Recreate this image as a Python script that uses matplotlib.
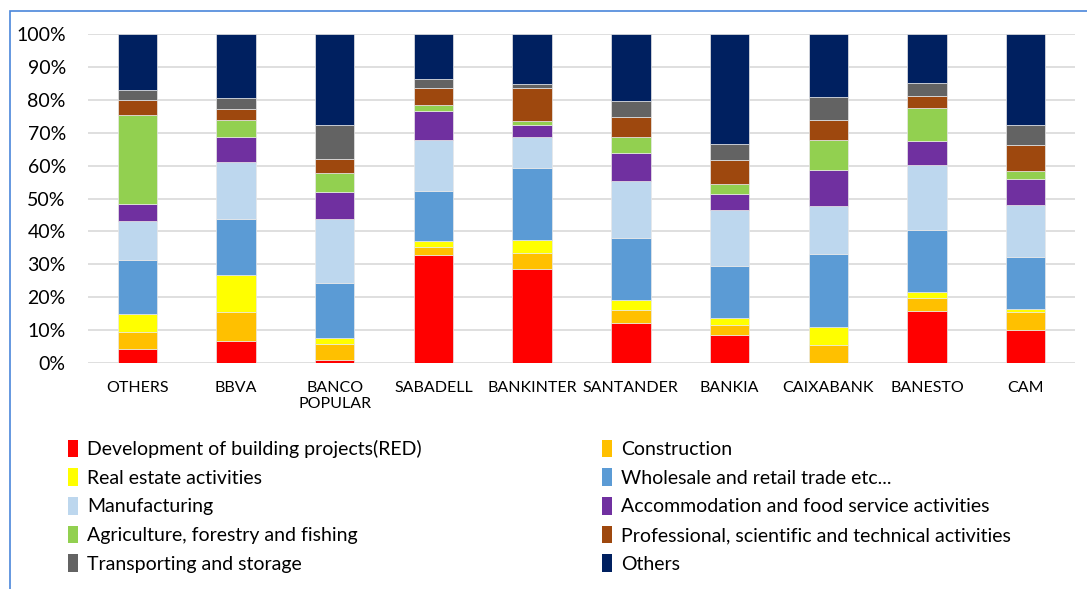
import matplotlib
matplotlib.use("Agg")
import matplotlib.pyplot as plt
import numpy as np
from matplotlib.patches import Rectangle, Patch

plt.rcParams['font.family'] = ['Lato', 'DejaVu Sans']

banks = ["OTHERS", "BBVA", "BANCO\nPOPULAR", "SABADELL", "BANKINTER",
         "SANTANDER", "BANKIA", "CAIXABANK", "BANESTO", "CAM"]

sectors = ["Development of building projects(RED)", "Construction",
           "Real estate activities", "Wholesale and retail trade etc...",
           "Manufacturing", "Accommodation and food service activities",
           "Agriculture, forestry and fishing",
           "Professional, scientific and technical activities",
           "Transporting and storage", "Others"]

colors = ["#FF0000", "#FFC000", "#FFFF00", "#5B9BD5", "#BDD7EE",
          "#7030A0", "#92D050", "#9E480E", "#636363", "#002060"]

# share of each sector per bank (%), one list per sector, banks in order above
red_dev = [4.3, 6.8, 0.9, 32.8, 28.6, 12.1, 8.4, 0.0, 15.8, 10.1]
construction = [5.1, 8.6, 4.8, 2.6, 4.9, 3.9, 3.1, 5.4, 4.1, 5.3]
real_estate = [5.4, 11.3, 2.0, 1.8, 3.8, 3.2, 2.3, 5.6, 1.6, 1.1]
wholesale = [16.4, 17.1, 16.5, 15.2, 22.1, 18.7, 15.7, 22.2, 18.8, 15.7]
manufacturing = [12.1, 17.4, 19.7, 15.4, 9.4, 17.4, 16.9, 14.6, 20.0, 15.8]
accommodation = [4.9, 7.5, 8.0, 8.9, 3.4, 8.4, 5.1, 11.0, 7.3, 8.0]
agriculture = [27.2, 5.3, 5.7, 1.7, 1.4, 5.1, 3.0, 9.1, 9.8, 2.5]
professional = [4.4, 3.1, 4.3, 5.2, 10.0, 5.9, 7.3, 5.9, 3.9, 7.7]
transport = [3.2, 3.5, 10.5, 2.8, 1.3, 4.9, 4.9, 7.1, 3.9, 6.1]
others = [17.0, 19.4, 27.6, 13.6, 15.1, 20.4, 33.3, 19.1, 14.8, 27.7]

series = [red_dev, construction, real_estate, wholesale, manufacturing,
          accommodation, agriculture, professional, transport, others]

fig = plt.figure(figsize=(10.87, 5.89), dpi=100)
ax = fig.add_axes([88 / 1087, 1 - 363 / 589, 987 / 1087, 329 / 589])

x = np.arange(len(banks))
data = np.array(series, dtype=float)
data = data / data.sum(axis=0)  # normalise to 100% stacks
bottom = np.zeros(len(banks))
handles = []
for vals, col, name in zip(data, colors, sectors):
    ax.bar(x, vals, 0.4, bottom=bottom, color=col, edgecolor="#E8E8E8",
           linewidth=0.5, zorder=3)
    bottom += vals
    handles.append(Patch(facecolor=col, edgecolor="none", label=name))

ax.set_xlim(-0.5, len(banks) - 0.5)
ax.set_ylim(0, 1)
ax.set_yticks(np.arange(0, 1.01, 0.1))
ax.set_yticklabels([f"{int(round(v * 100))}%" for v in np.arange(0, 1.01, 0.1)],
                   fontsize=14)
ax.set_xticks(x)
ax.set_xticklabels(banks, fontsize=11.5)
ax.tick_params(axis="y", length=0, pad=16)
ax.tick_params(axis="x", length=0, pad=13)
ax.grid(axis="y", color="#D9D9D9", linewidth=1.2, zorder=0)
for s in ax.spines.values():
    s.set_visible(False)

# two legend columns, filled row by row
col1 = handles[0::2]
col2 = handles[1::2]
leg_kw = dict(frameon=False, fontsize=14, handlelength=0.55, handleheight=1.0,
              handletextpad=0.45, labelspacing=0.53, borderaxespad=0,
              loc="upper left")
fig.legend(handles=col1, bbox_to_anchor=(60 / 1087, 1 - 432 / 589), **leg_kw)
fig.legend(handles=col2, bbox_to_anchor=(594 / 1087, 1 - 432 / 589), **leg_kw)

# outer chart frame (clipped on the right and bottom in the source)
fig.patches.append(Rectangle((10 / 1087, -0.1), 1.2, 1 - 10.5 / 589 + 0.1,
                             transform=fig.transFigure, fill=False,
                             edgecolor="#4A86DA", linewidth=1.2))

fig.savefig("out.png", dpi=100)
